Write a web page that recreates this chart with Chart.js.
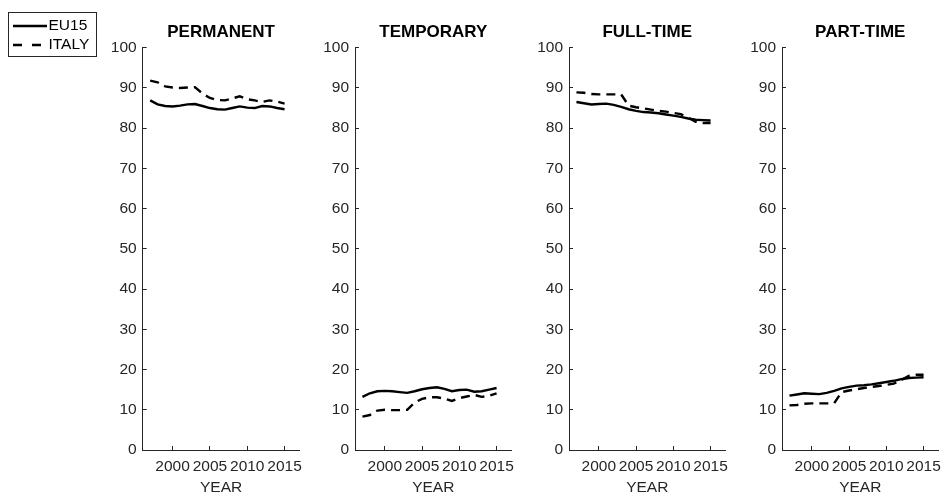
<!DOCTYPE html>
<html>
<head>
<meta charset="utf-8">
<script src="https://cdn.jsdelivr.net/npm/chart.js@4"></script>
<style>
  html, body { margin: 0; padding: 0; background: #fff; overflow: hidden; }
  #wrap { position: relative; width: 948px; height: 493px; }
  canvas { position: absolute; top: 0; }
</style>
</head>
<body>
<div id="wrap">
  <canvas id="c0" width="315" height="500" style="left:0px"></canvas>
  <canvas id="c1" width="217" height="500" style="left:310px"></canvas>
  <canvas id="c2" width="217" height="500" style="left:524px"></canvas>
  <canvas id="c3" width="217" height="500" style="left:737px"></canvas>
</div>
<script>
const years = [1997, 1998, 1999, 2000, 2001, 2002, 2003, 2004, 2005, 2006,
               2007, 2008, 2009, 2010, 2011, 2012, 2013, 2014, 2015];
const xTicks = [2000, 2005, 2010, 2015];
const yTicks = [0, 10, 20, 30, 40, 50, 60, 70, 80, 90, 100];
const seriesNames = ['EU15', 'ITALY'];
const panelTitles = ['PERMANENT', 'TEMPORARY', 'FULL-TIME', 'PART-TIME'];

const permanentEU15 = [86.9, 85.9, 85.5, 85.4, 85.6, 85.9, 86.0, 85.5, 85.0, 84.7,
                       84.6, 85.0, 85.4, 85.1, 85.0, 85.5, 85.4, 85.0, 84.7];
const permanentItaly = [91.8, 91.4, 90.4, 90.1, 90.0, 90.1, 90.2, 88.6, 87.5, 87.0,
                        86.9, 87.4, 87.9, 87.2, 86.9, 86.5, 86.9, 86.6, 86.1];
const temporaryEU15 = [13.2, 14.1, 14.6, 14.7, 14.6, 14.4, 14.2, 14.6, 15.1, 15.4,
                       15.6, 15.2, 14.6, 14.9, 15.0, 14.5, 14.6, 15.0, 15.4];
const temporaryItaly = [8.3, 8.7, 9.8, 10.0, 9.9, 9.9, 10.0, 11.8, 12.7, 13.1,
                        13.1, 12.8, 12.2, 12.9, 13.3, 13.7, 13.2, 13.5, 14.1];
const fullTimeEU15 = [86.5, 86.2, 85.9, 86.0, 86.1, 85.8, 85.3, 84.7, 84.3, 84.0,
                      83.9, 83.7, 83.4, 83.1, 82.8, 82.4, 82.1, 82.0, 81.9];
const fullTimeItaly = [88.9, 88.8, 88.5, 88.4, 88.4, 88.4, 88.4, 85.6, 85.2, 84.9,
                       84.6, 84.3, 84.1, 83.8, 83.5, 82.6, 81.6, 81.3, 81.3];
const partTimeEU15 = [13.5, 13.8, 14.1, 14.0, 13.9, 14.2, 14.7, 15.3, 15.7, 16.0,
                      16.1, 16.3, 16.6, 16.9, 17.2, 17.6, 17.9, 18.0, 18.1];
const partTimeItaly = [11.1, 11.2, 11.5, 11.6, 11.6, 11.6, 11.6, 14.4, 14.8, 15.1,
                       15.4, 15.7, 15.9, 16.2, 16.5, 17.4, 18.4, 18.7, 18.7];

const panelData = [
  [permanentEU15, permanentItaly],
  [temporaryEU15, temporaryItaly],
  [fullTimeEU15, fullTimeItaly],
  [partTimeEU15, partTimeItaly]
];

const axisColor = '#262626';
const fontFamily = '"Liberation Sans", Arial, Helvetica, sans-serif';
const dashes = [[], [9, 6]];
const legendDashes = [[], [9, 10]];

// legend box drawn next to the first panel (MATLAB style, outside the axes)
const boxLegend = {
  id: 'boxLegend',
  afterDraw(chart) {
    if (!chart.options.plugins.boxLegend.show) return;
    const ctx = chart.ctx;
    ctx.save();
    ctx.strokeStyle = axisColor;
    ctx.lineWidth = 1;
    ctx.strokeRect(8.5, 12.5, 88, 44);
    chart.data.datasets.forEach((ds, i) => {
      const y = 26 + i * 19;
      ctx.beginPath();
      ctx.setLineDash(legendDashes[i]);
      ctx.strokeStyle = ds.borderColor;
      ctx.lineWidth = ds.borderWidth;
      ctx.moveTo(13, y);
      ctx.lineTo(47, y);
      ctx.stroke();
      ctx.setLineDash([]);
      ctx.fillStyle = '#000';
      ctx.font = '15.5px ' + fontFamily;
      ctx.textBaseline = 'middle';
      ctx.textAlign = 'left';
      ctx.fillText(ds.label, 48.5, y);
    });
    ctx.restore();
  }
};

function makePanel(idx) {
  const ctx = document.getElementById('c' + idx).getContext('2d');
  const datasets = panelData[idx].map((vals, i) => ({
    label: seriesNames[i],
    data: years.map((yr, k) => ({ x: yr, y: vals[k] })),
    borderColor: '#000',
    borderWidth: 2.4,
    borderDash: dashes[i],
    pointRadius: 0,
    fill: false,
    tension: 0
  }));

  return new Chart(ctx, {
    type: 'line',
    data: { datasets },
    plugins: [boxLegend],
    options: {
      responsive: false,
      animation: false,
      layout: { padding: { left: idx === 0 ? 97.7 : 0, right: 10, top: 0, bottom: 0 } },
      plugins: {
        legend: { display: false },
        tooltip: { enabled: false },
        boxLegend: { show: idx === 0 },
        title: {
          display: true,
          text: panelTitles[idx],
          fullSize: false,
          color: '#000',
          font: { family: fontFamily, size: 17, weight: 'bold' },
          padding: { top: 22.5, bottom: 4.8 }
        }
      },
      scales: {
        x: {
          type: 'linear',
          min: 1996,
          max: 2017,
          afterBuildTicks: s => { s.ticks = xTicks.map(v => ({ value: v })); },
          afterFit: s => { s.height = 50; },
          border: { display: true, color: axisColor, width: 1 },
          grid: { display: true, drawOnChartArea: false, drawTicks: true, tickLength: -4, color: axisColor },
          ticks: {
            color: axisColor,
            padding: 11.7,
            maxRotation: 0,
            autoSkip: false,
            font: { family: fontFamily, size: 15.5 },
            callback: v => String(v)
          },
          title: {
            display: true,
            text: 'YEAR',
            color: axisColor,
            font: { family: fontFamily, size: 15.5 },
            padding: { top: 0, bottom: 3.2 }
          }
        },
        y: {
          min: 0,
          max: 100,
          afterBuildTicks: s => { s.ticks = yTicks.map(v => ({ value: v })); },
          afterFit: s => { s.width = 45; },
          border: { display: true, color: axisColor, width: 1 },
          grid: { display: true, drawOnChartArea: false, drawTicks: true, tickLength: -4, color: axisColor },
          ticks: {
            color: axisColor,
            padding: 10,
            font: { family: fontFamily, size: 15.5 }
          }
        }
      }
    }
  });
}

const charts = [0, 1, 2, 3].map(makePanel);
</script>
</body>
</html>
